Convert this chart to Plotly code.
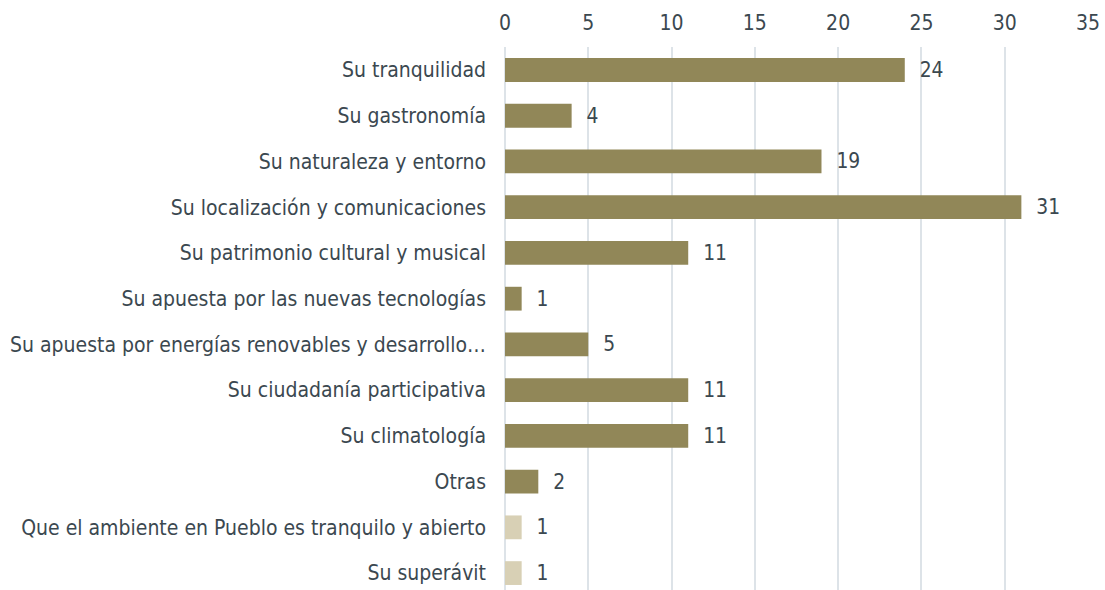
import plotly.graph_objects as go

categories = [
    "Su tranquilidad",
    "Su gastronomía",
    "Su naturaleza y entorno",
    "Su localización y comunicaciones",
    "Su patrimonio cultural y musical",
    "Su apuesta por las nuevas tecnologías",
    "Su apuesta por energías renovables y desarrollo…",
    "Su ciudadanía participativa",
    "Su climatología",
    "Otras",
    "Que el ambiente en Pueblo es tranquilo y abierto",
    "Su superávit",
]
values = [24, 4, 19, 31, 11, 1, 5, 11, 11, 2, 1, 1]
bar_colors = ["#918758"] * 10 + ["#d8d0b5"] * 2

text_color = "#3b4850"
font_family = "DejaVu Sans Condensed, DejaVu Sans, sans-serif"
fsize = 21

fig = go.Figure(go.Bar(
    y=categories,
    x=values,
    orientation="h",
    width=0.52,
    marker=dict(color=bar_colors, line=dict(width=0)),
    texttemplate="  %{x}",
    textposition="outside",
    textfont=dict(size=fsize, color=text_color, family=font_family),
    cliponaxis=False,
))

fig.update_layout(
    width=1105,
    height=590,
    margin=dict(l=505, r=17, t=47, b=0),
    plot_bgcolor="white",
    paper_bgcolor="white",
    font=dict(family=font_family, size=fsize, color=text_color),
    showlegend=False,
    xaxis=dict(
        side="top",
        range=[0, 35],
        dtick=5,
        showgrid=True,
        gridcolor="#dde3e8",
        gridwidth=2,
        zeroline=True,
        zerolinecolor="#dde3e8",
        zerolinewidth=2,
        tickfont=dict(size=fsize, color=text_color),
        ticks="",
        ticklabelstandoff=12,
        automargin=False,
    ),
    yaxis=dict(
        type="category",
        range=[11.37, -0.503],
        showgrid=False,
        ticks="",
        ticklabelstandoff=18,
        tickfont=dict(size=fsize, color=text_color),
        automargin=False,
    ),
)

# drop the default body margin so the figure fills the window exactly
fig.write_html(
    "out.html",
    config={"displayModeBar": False},
    post_script="document.body.style.margin='0';document.body.style.overflow='hidden';",
)
